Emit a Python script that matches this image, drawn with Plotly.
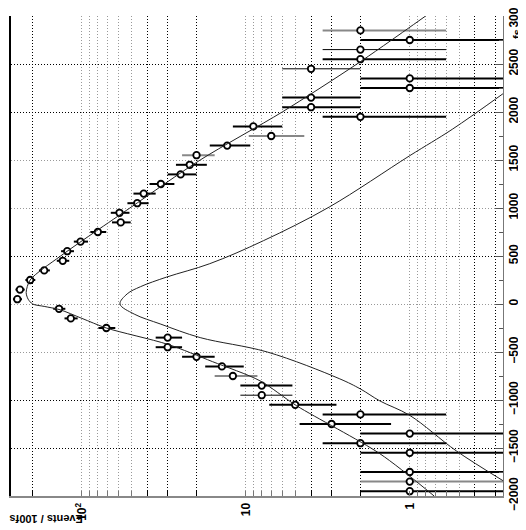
import plotly.graph_objects as go

# measured histogram bins (time in fs, events per 100 fs, error)
t_thick = [-1950, -1750, -1550, -1450, -1350, -1250, -1150, -1050, -850, -650,
           -550, -450, -350, -250, -150, -50, 50, 150, 250, 350, 450, 550, 650,
           750, 850, 950, 1050, 1150, 1250, 1350, 1450, 1650, 1850, 1950, 2050,
           2150, 2250, 2350, 2550, 2750]
n_thick = [1, 1, 1, 2, 1, 3, 2, 5, 8, 14,
           20, 30, 30, 71, 117, 138, 248, 239, 207, 170, 131, 123, 102,
           80, 58, 59, 46, 42, 33, 25, 22, 13, 9, 2, 4,
           4, 1, 1, 2, 1]
e_thick = [1, 1, 1, 1.4, 1, 1.7, 1.4, 2.2, 2.8, 3.7,
           4.5, 5.5, 5.5, 8.4, 10.8, 11.7, 15.7, 15.5, 14.4, 13, 11.4, 11.1, 10.1,
           8.9, 7.6, 7.7, 6.8, 6.5, 5.7, 5, 4.7, 3.6, 3, 1.4, 2,
           2, 1, 1, 1.4, 1]

t_thin = [-950, 2450, 2650]
n_thin = [8, 4, 2]
e_thin = [2.8, 2, 1.4]

t_gray = [-1850, -750, 1550, 1750, 2850]
n_gray = [1, 12, 20, 7, 2]
e_gray = [1, 3.5, 4.5, 2.6, 1.4]

# fitted curves
fit_t = [-2000, -1560, -1060, -800, -600, -420, -250, -150, -60, -25, 0, 50,
         120, 250, 500, 1000, 1500, 2000, 2500, 3000]
fit_v = [0.71, 1.52, 4.9, 8.2, 16, 30, 71, 100, 136, 170, 200, 213,
         219, 207, 135, 51, 19, 6.0, 2.1, 0.8]

res_t = [-1840, -1530, -1160, -1010, -885, -780, -500, -350, -210, -105, 0,
         105, 180, 280, 420, 660, 1010, 1545, 1820, 2190]
res_v = [0.27, 0.52, 1.0, 1.52, 2.0, 2.67, 7.4, 19, 33, 48, 58.6,
         53, 44, 30.5, 16.6, 7.8, 3.1, 1.0, 0.55, 0.27]

x_range = [2.433, -0.569]
y_range = [-2000, 3000]
family = "Liberation Sans, Arial, sans-serif"
font = dict(family=family, size=12, color="black", weight="bold")
title_font = dict(family=family, size=11, color="black", weight="bold")
dots = "1px,2px"


def data_trace(t, n, e, bar_color, bar_width):
    return go.Scatter(
        x=n, y=t, mode="markers", xaxis="x", yaxis="y",
        marker=dict(symbol="circle", size=6.5, color="white",
                    line=dict(color="black", width=1.8)),
        error_x=dict(type="data", array=e, arrayminus=e, color=bar_color,
                     thickness=bar_width, width=0),
        showlegend=False,
    )


fig = go.Figure()

fig.add_trace(go.Scatter(x=res_v, y=res_t, mode="lines", xaxis="x2", yaxis="y2",
                         line=dict(color="#222", width=1, shape="spline", smoothing=1),
                         showlegend=False))
fig.add_trace(go.Scatter(x=fit_v, y=fit_t, mode="lines", xaxis="x2", yaxis="y2",
                         line=dict(color="#222", width=1, shape="spline", smoothing=0.8),
                         showlegend=False))

fig.add_trace(data_trace(t_gray, n_gray, e_gray, "#888", 2))
fig.add_trace(data_trace(t_thin, n_thin, e_thin, "black", 1))
fig.add_trace(data_trace(t_thick, n_thick, e_thick, "black", 2))

# page body adds an 8px offset, so the figure is a bit smaller than the window
fig.update_layout(
    template="none",
    width=518, height=522,
    margin=dict(l=3, r=23, t=8, b=34, autoexpand=False),
    paper_bgcolor="white", plot_bgcolor="white",
    font=font,
    xaxis=dict(
        type="log", range=x_range, automargin=False,
        tickvals=[0.5, 0.6, 0.7, 0.8, 0.9, 1, 5, 6, 7, 8, 9, 10,
                  50, 60, 70, 80, 90, 100],
        ticktext=["", "", "", "", "", "1", "", "", "", "", "", "10",
                  "", "", "", "", "", "10<sup>2</sup>"],
        tickangle=-90, tickfont=font,
        ticks="inside", ticklen=5, tickcolor="#777",
        showgrid=True, gridcolor="#999", griddash=dots, gridwidth=1,
        showline=True, linecolor="#888", linewidth=2,
        zeroline=False,
    ),
    xaxis2=dict(
        type="log", range=x_range, overlaying="x", anchor="y2", automargin=False,
        tickvals=[0.3, 0.4, 2, 3, 4, 20, 30, 40, 200],
        showticklabels=False,
        ticks="inside", ticklen=5, tickcolor="black",
        showgrid=True, gridcolor="black", griddash=dots, gridwidth=1,
        showline=False, zeroline=False,
    ),
    yaxis=dict(
        range=y_range, side="right", automargin=False,
        tickvals=[-2000, -1500, -1000, -500, 0, 500, 1000, 1500, 2000, 2500, 3000],
        tickangle=-90, tickfont=font, ticklabeloverflow="allow",
        ticks="inside", ticklen=8, tickcolor="#555",
        minor=dict(dtick=250, ticks="inside", ticklen=4, tickcolor="#555", showgrid=False),
        showgrid=True, gridcolor="#999", griddash=dots, gridwidth=1,
        showline=True, linecolor="#777", linewidth=1,
        zeroline=False,
    ),
    yaxis2=dict(
        range=y_range, side="left", overlaying="y", anchor="x2", automargin=False,
        tickvals=[-1500, -1000, 500, 2000, 2500],
        showticklabels=False, ticks="",
        showgrid=True, gridcolor="black", griddash=dots, gridwidth=1,
        showline=True, linecolor="black", linewidth=2,
        zeroline=False,
    ),
    annotations=[
        dict(text="Events / 100fs", textangle=180, xref="paper", yref="paper",
             x=0.071, y=-0.049, showarrow=False, font=title_font,
             xanchor="center", yanchor="middle"),
        dict(text="fs", textangle=-90, xref="paper", yref="paper",
             x=1.028, y=0.962, showarrow=False, font=title_font,
             xanchor="center", yanchor="middle"),
    ],
)

fig.write_html("out.html")
